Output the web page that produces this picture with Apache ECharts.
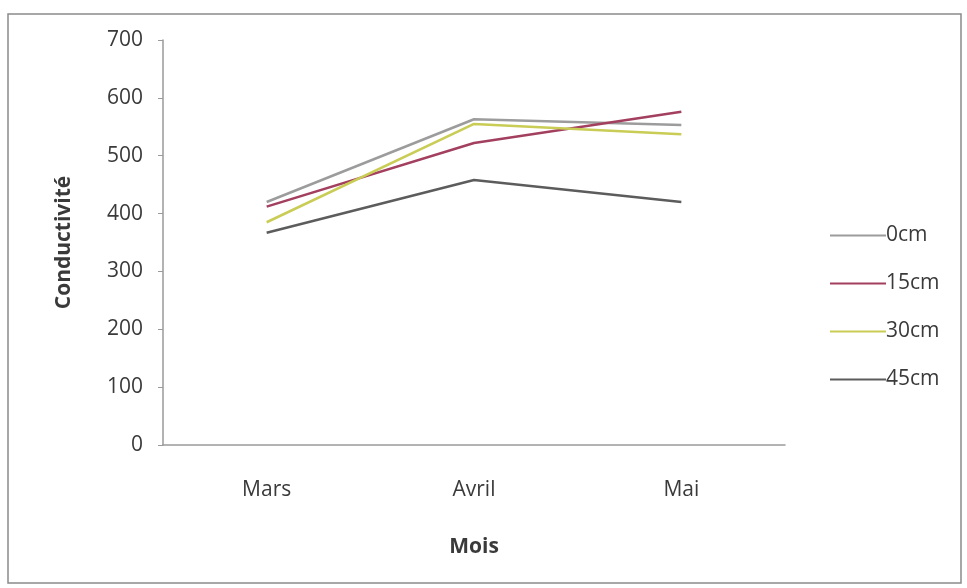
<!DOCTYPE html>
<html>
<head>
<meta charset="utf-8">
<script src="https://cdn.jsdelivr.net/npm/echarts@6/dist/echarts.min.js"></script>
<style>
  html, body { margin: 0; padding: 0; background: #fff; }
  #chart { width: 967px; height: 588px; }
</style>
</head>
<body>
<div id="chart"></div>
<script>
// Monthly conductivity at four soil depths
const months = ['Mars', 'Avril', 'Mai'];
const depthNames = ['0cm', '15cm', '30cm', '45cm'];
const cond0 = [420, 563, 553];
const cond15 = [412, 522, 576];
const cond30 = [385, 555, 537];
const cond45 = [367, 458, 420];
const yTicks = [0, 100, 200, 300, 400, 500, 600, 700];

const seriesValues = [cond0, cond15, cond30, cond45];
const seriesColors = ['#9c9c9c', '#a33f5f', '#c9cc55', '#5c5c5c'];
const textColor = '#3a3a3a';
const font = '"Open Sans", Lato, sans-serif';

const chart = echarts.init(document.getElementById('chart'));
chart.setOption({
  animation: false,
  backgroundColor: '#fff',
  textStyle: { fontFamily: font },
  graphic: [{
    type: 'rect',
    shape: { x: 8, y: 14, width: 953, height: 569 },
    style: { fill: 'none', stroke: '#8a8a8a', lineWidth: 1.5 },
    z: -1
  }],
  grid: { left: 163, right: 182, top: 40, bottom: 143 },
  legend: {
    orient: 'vertical',
    left: 825,
    top: 220,
    itemGap: 27,
    itemWidth: 56,
    itemHeight: 22,
    icon: 'path://M0,10 L56,10 L56,12 L0,12 Z',
    textStyle: { fontSize: 21, color: textColor, fontFamily: font, padding: [0, 0, 0, -5] },
    data: depthNames
  },
  xAxis: {
    type: 'category',
    data: months,
    boundaryGap: true,
    name: 'Mois',
    nameLocation: 'middle',
    nameGap: 92,
    nameTextStyle: { fontSize: 21, fontWeight: 'bold', color: textColor },
    axisLine: { lineStyle: { color: '#9a9a9a', width: 1.5 } },
    axisTick: { show: false },
    axisLabel: { fontSize: 21, color: textColor, margin: 35 }
  },
  yAxis: {
    type: 'value',
    min: yTicks[0],
    max: yTicks[yTicks.length - 1],
    interval: 100,
    name: 'Conductivité',
    nameLocation: 'middle',
    nameGap: 88,
    nameTextStyle: { fontSize: 21, fontWeight: 'bold', color: textColor },
    axisLine: { show: true, lineStyle: { color: '#9a9a9a', width: 1.5 } },
    axisTick: { show: true, length: 5, lineStyle: { color: '#9a9a9a' } },
    axisLabel: { fontSize: 21, color: textColor, margin: 20 },
    splitLine: { show: false }
  },
  series: depthNames.map((name, i) => ({
    name: name,
    type: 'line',
    data: seriesValues[i],
    showSymbol: false,
    symbol: 'none',
    lineStyle: { color: seriesColors[i], width: 2.5 },
    itemStyle: { color: seriesColors[i] }
  }))
});
</script>
</body>
</html>
